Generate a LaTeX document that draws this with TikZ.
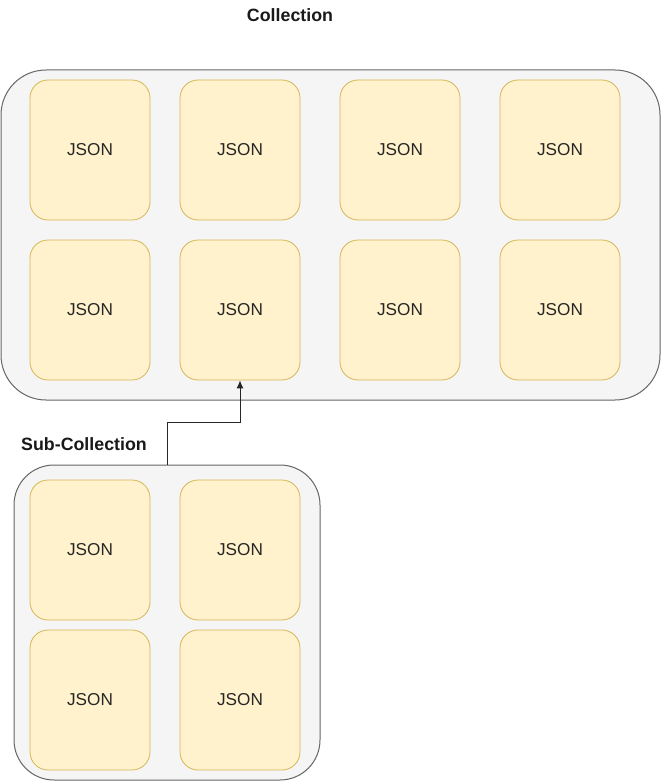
\documentclass[tikz,border=0pt]{standalone}
\usepackage{fontspec}
\setmainfont{Liberation Sans}
\usetikzlibrary{arrows.meta}
\definecolor{groupfill}{HTML}{F5F5F5}
\definecolor{groupline}{HTML}{666666}
\definecolor{docfill}{HTML}{FFF2CC}
\definecolor{docline}{HTML}{D6B656}
\tikzset{
  group/.style={draw=groupline, fill=groupfill, line width=1pt, inner sep=0pt},
  doc/.style={draw=docline, fill=docfill, line width=0.8pt, rounded corners=18pt,
    minimum width=120pt, minimum height=140pt, inner sep=0pt,
    font=\fontsize{17.2}{20}\selectfont, text=black!85},
  title/.style={font=\fontsize{17.8}{20}\selectfont\bfseries, text=black!90}
}
\begin{document}
\begin{tikzpicture}[x=1pt, y=-1pt]
\useasboundingbox (0,0) rectangle (661,781);
\node[title] (coltitle) at (290,15){Collection};
\node[group, rounded corners=45pt, minimum width=659pt, minimum height=330pt] (col) at (330.5,235){};
\node[doc] (doc1) at (90,150){JSON};
\node[doc] (doc2) at (240,150){JSON};
\node[doc] (doc3) at (400,150){JSON};
\node[doc] (doc4) at (560,150){JSON};
\node[doc] (doc5) at (90,310){JSON};
\node[doc] (doc6) at (240,310){JSON};
\node[doc] (doc7) at (400,310){JSON};
\node[doc] (doc8) at (560,310){JSON};
\node[title] (subtitle) at (84,444){Sub-Collection};
\node[group, rounded corners=40pt, minimum width=306pt, minimum height=315pt] (sub) at (167,622.5){};
\node[doc] (sdoc1) at (90,550){JSON};
\node[doc] (sdoc2) at (240,550){JSON};
\node[doc] (sdoc3) at (90,700){JSON};
\node[doc] (sdoc4) at (240,700){JSON};
\draw[-{Latex[length=8pt,width=7pt]}, line width=1pt, black!85](sub.north) -- ++(0,-42) -| (doc6.south);
\end{tikzpicture}
\end{document}
